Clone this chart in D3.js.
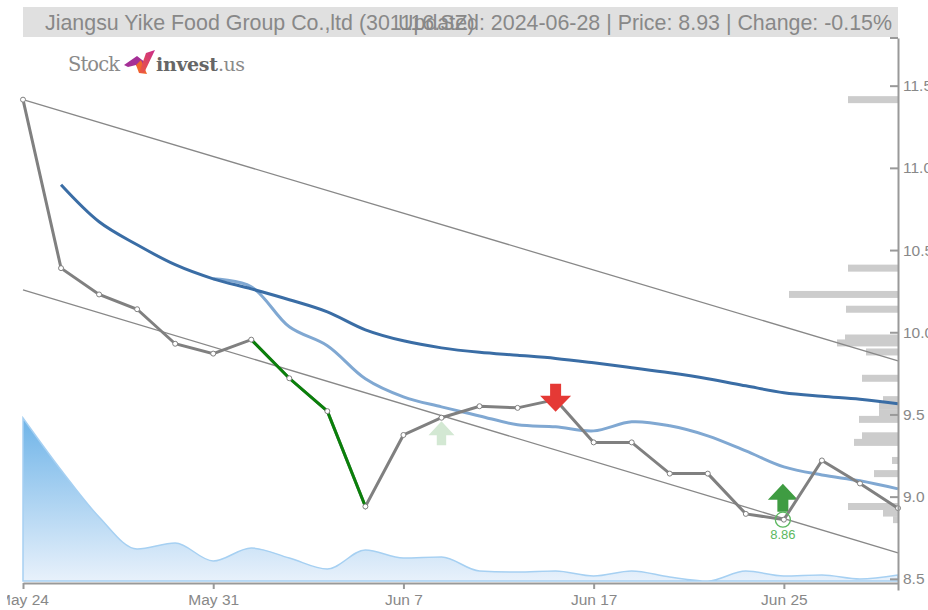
<!DOCTYPE html>
<html>
<head>
<meta charset="utf-8">
<script src="https://cdn.jsdelivr.net/npm/d3@7"></script>
<style>
  html, body { margin: 0; padding: 0; background: #fff; overflow: hidden; }
  svg { display: block; font-family: "Liberation Sans", Arial, sans-serif; }
</style>
</head>
<body>
<svg id="grafica" width="928" height="610"></svg>
<script>
// datos
const dates = ["May 24","May 27","May 28","May 29","May 30","May 31","Jun 3","Jun 4","Jun 5","Jun 6","Jun 7",
  "Jun 11","Jun 12","Jun 13","Jun 14","Jun 17","Jun 18","Jun 19","Jun 20","Jun 24","Jun 25","Jun 26","Jun 27","Jun 28"];
const date_ticks = ["May 24","May 31","Jun 7","Jun 17","Jun 25"];
const price_ticks = [8.5,9.0,9.5,10.0,10.5,11.0,11.5];

const close = [11.415,10.39,10.23,10.14,9.93,9.87,9.955,9.72,9.52,8.94,9.375,9.48,9.55,9.54,9.59,9.33,9.33,9.14,9.14,8.895,8.86,9.22,9.08,8.93];
const green_dates = ["Jun 3","Jun 4","Jun 5","Jun 6"];

const ma_long = [null,10.897,10.672,10.532,10.411,10.325,10.264,10.198,10.124,10.015,9.948,9.905,9.878,9.860,9.841,9.814,9.784,9.753,9.717,9.674,9.632,9.610,9.592,9.565];
const ma_short = [null,null,null,null,null,10.325,10.277,10.033,9.918,9.717,9.607,9.546,9.491,9.437,9.425,9.400,9.455,9.431,9.370,9.278,9.181,9.132,9.096,9.047];

const volume = [163,111,64,32,38,20,33,23,12,31,23,24,10,9,10,5,10,4,0,10,5,6,2,6];

const trend_upper = [11.415,9.826];
const trend_lower = [10.258,8.658];

// perfil de volumen por nivel de precio
const profile_price = [11.415,10.39,10.23,10.14,9.965,9.935,9.88,9.72,9.59,9.55,9.51,9.47,9.37,9.33,9.22,9.14,8.94,8.90,8.86];
const profile_size = [50,50,109,52,53,61,32,36,15,19,19,39,36,44,6,24,50,15,5];

const signal_buy_weak = {date:"Jun 11", price:9.48};
const signal_sell = {date:"Jun 14", price:9.59};
const signal_buy = {date:"Jun 25", price:8.86};

const title_left = "Jiangsu Yike Food Group Co.,ltd (301116.SZ)";
const title_right = "Updated: 2024-06-28 | Price: 8.93 | Change: -0.15%";

const margin = {l:23,r:30,t:38,b:20};
const svg_w = 928;
const svg_h = 610;
const plot_r = svg_w - margin.r;
const plot_b = svg_h - margin.b;
const x_axis_y = 583;

let svg = d3.select("#grafica");

let x = d3.scalePoint().domain(dates).range([margin.l,plot_r]);
let y = d3.scaleLinear().domain([8.432,11.79]).range([plot_b,margin.t]);
let y_vol = d3.scaleLinear().domain([0,d3.max(volume)]).range([581,418]);
let w_profile = d3.scaleLinear().domain([0,d3.max(profile_size)]).range([0,109]);

let defs = svg.append("defs");
let grad = defs.append("linearGradient").attr("id","vol_grad")
  .attr("x1",0).attr("x2",0).attr("y1",0).attr("y2",1);
grad.append("stop").attr("offset","0%").attr("stop-color","#6fb4e8");
grad.append("stop").attr("offset","100%").attr("stop-color","#e8f1fb");
defs.append("clipPath").attr("id","clip_x").append("rect")
  .attr("x",7).attr("y",570).attr("width",921).attr("height",40);
let logo_grad = defs.append("linearGradient").attr("id","logo_grad")
  .attr("x1",0).attr("x2",1).attr("y1",1).attr("y2",0);
logo_grad.append("stop").attr("offset","0%").attr("stop-color","#ee5a3a");
logo_grad.append("stop").attr("offset","100%").attr("stop-color","#c92c8e");

// barra del titulo
svg.append("rect").attr("x",margin.l).attr("y",7).attr("width",plot_r-margin.l).attr("height",30).attr("fill","#e0e0e0");
svg.append("text").attr("x",45).attr("y",30).attr("font-size",21.4).attr("fill","#888").text(title_left);
svg.append("text").attr("x",892).attr("y",30).attr("text-anchor","end").attr("font-size",21.4).attr("fill","#888").text(title_right);

// logo
let logo = svg.append("g");
logo.append("text").attr("x",68).attr("y",71).attr("font-family","'DejaVu Serif'").attr("font-size",19.5)
  .attr("font-weight",200).attr("fill","#8a8a8a").attr("textLength",52).text("Stock");
logo.append("polygon").attr("points","124,65 137,56 146,63 141,71 136,65 128,67").attr("fill","#a52f96");
logo.append("polygon").attr("points","136,65 141,60 147,74 139,73").attr("fill","#f0672c");
logo.append("polygon").attr("points","139,73 146,53 155,50 144,73").attr("fill","url(#logo_grad)");
logo.append("text").attr("x",156).attr("y",71).attr("font-family","'DejaVu Serif'").attr("font-size",19)
  .attr("font-weight",700).attr("fill","#666").attr("textLength",62).text("invest");
logo.append("text").attr("x",218).attr("y",71).attr("font-family","'DejaVu Serif'").attr("font-size",19)
  .attr("fill","#8a8a8a").attr("textLength",27).text(".us");

// area de volumen
let vol_area = d3.area()
  .x((d,i)=>x(dates[i]))
  .y0(y_vol(0))
  .y1(d=>y_vol(d))
  .curve(d3.curveMonotoneX);
svg.append("path").attr("d",vol_area(volume))
  .attr("fill","url(#vol_grad)").attr("stroke","#a6d0f2").attr("stroke-width",1.5);

// perfil de volumen
svg.append("g").selectAll("rect").data(profile_price).enter().append("rect")
  .attr("x",(d,i)=>plot_r-w_profile(profile_size[i]))
  .attr("y",d=>y(d)-3.5)
  .attr("width",(d,i)=>w_profile(profile_size[i]))
  .attr("height",7)
  .attr("fill","#cccccc");

// canal de tendencia
[trend_upper,trend_lower].forEach(t=>{
  svg.append("line")
    .attr("x1",x.range()[0]).attr("x2",x.range()[1])
    .attr("y1",y(t[0])).attr("y2",y(t[1]))
    .attr("stroke","#888").attr("stroke-width",1.3);
});

// medias moviles
let ma_line = d3.line()
  .defined(d=>d!=null)
  .x((d,i)=>x(dates[i]))
  .y(d=>y(d))
  .curve(d3.curveCatmullRom);
svg.append("path").attr("d",ma_line(ma_short)).attr("fill","none").attr("stroke","#80a8d2").attr("stroke-width",3);
svg.append("path").attr("d",ma_line(ma_long)).attr("fill","none").attr("stroke","#3a6da5").attr("stroke-width",3);

// flechas de compra, por debajo del precio
const arrow_weak = "M0,0 L13,14 L4.7,14 L4.7,24 L-4.7,24 L-4.7,14 L-13,14 Z";
const arrow_up = "M0,0 L15,16 L5.5,16 L5.5,28 L-5.5,28 L-5.5,16 L-15,16 Z";
const arrow_down = "M0,0 L15.5,-16 L5.5,-16 L5.5,-28 L-5.5,-28 L-5.5,-16 L-15.5,-16 Z";
svg.append("path").attr("d",arrow_weak).attr("fill","#d3e8d3")
  .attr("transform",`translate(${x(signal_buy_weak.date)},${y(signal_buy_weak.price)+3.5})`);
svg.append("path").attr("d",arrow_up).attr("fill","#3f9c42")
  .attr("transform",`translate(${x(signal_buy.date)-1},${y(signal_buy.price)-36})`);

// precio
let price_line = d3.line().x((d,i)=>x(dates[i])).y(d=>y(d));
svg.append("path").attr("d",price_line(close)).attr("fill","none").attr("stroke","#808080").attr("stroke-width",3);
let green_idx = green_dates.map(d=>dates.indexOf(d));
svg.append("path")
  .attr("d",d3.line().x(d=>x(dates[d])).y(d=>y(close[d]))(green_idx))
  .attr("fill","none").attr("stroke","#0a800a").attr("stroke-width",3);

// puntos
svg.append("g").selectAll("circle").data(close).enter().append("circle")
  .attr("cx",(d,i)=>x(dates[i])).attr("cy",d=>y(d)).attr("r",2.5)
  .attr("fill","#fff").attr("stroke","#808080").attr("stroke-width",1);

// la flecha de venta tapa el punto
svg.append("path").attr("d",arrow_down).attr("fill","#e53935")
  .attr("transform",`translate(${x(signal_sell.date)},${y(signal_sell.price)+12})`);

// minimo marcado
svg.append("circle").attr("cx",x(signal_buy.date)-1).attr("cy",y(signal_buy.price)).attr("r",7.5)
  .attr("fill","none").attr("stroke","#5cb860").attr("stroke-width",1.3);
svg.append("text").attr("x",x(signal_buy.date)-1).attr("y",y(signal_buy.price)+19)
  .attr("text-anchor","middle").attr("font-size",13).attr("fill","#5cb860").text(signal_buy.price.toFixed(2));

// ejes
// la etiqueta de May 24 queda cortada a la izquierda
let x_axis = svg.append("g").attr("clip-path","url(#clip_x)").append("g")
  .attr("transform",`translate(0,${x_axis_y})`)
  .call(d3.axisBottom(x).tickValues(date_ticks).tickSize(6).tickSizeOuter(0).tickPadding(5));
let y_axis = svg.append("g").attr("transform",`translate(${plot_r},0)`)
  .call(d3.axisRight(y).tickValues(price_ticks).tickFormat(d3.format(".1f")).tickSize(-8).tickSizeOuter(0).tickPadding(5));
y_axis.append("line").attr("x1",-8).attr("x2",0).attr("y1",margin.t).attr("y2",margin.t);

[x_axis,y_axis].forEach(a=>{
  a.selectAll("path.domain").attr("stroke","#999").attr("stroke-width",2);
  a.selectAll("line").attr("stroke","#999").attr("stroke-width",2);
  a.selectAll("text").attr("font-size",15.5).attr("fill","#888").attr("font-family","'Liberation Sans'");
});
</script>
</body>
</html>
